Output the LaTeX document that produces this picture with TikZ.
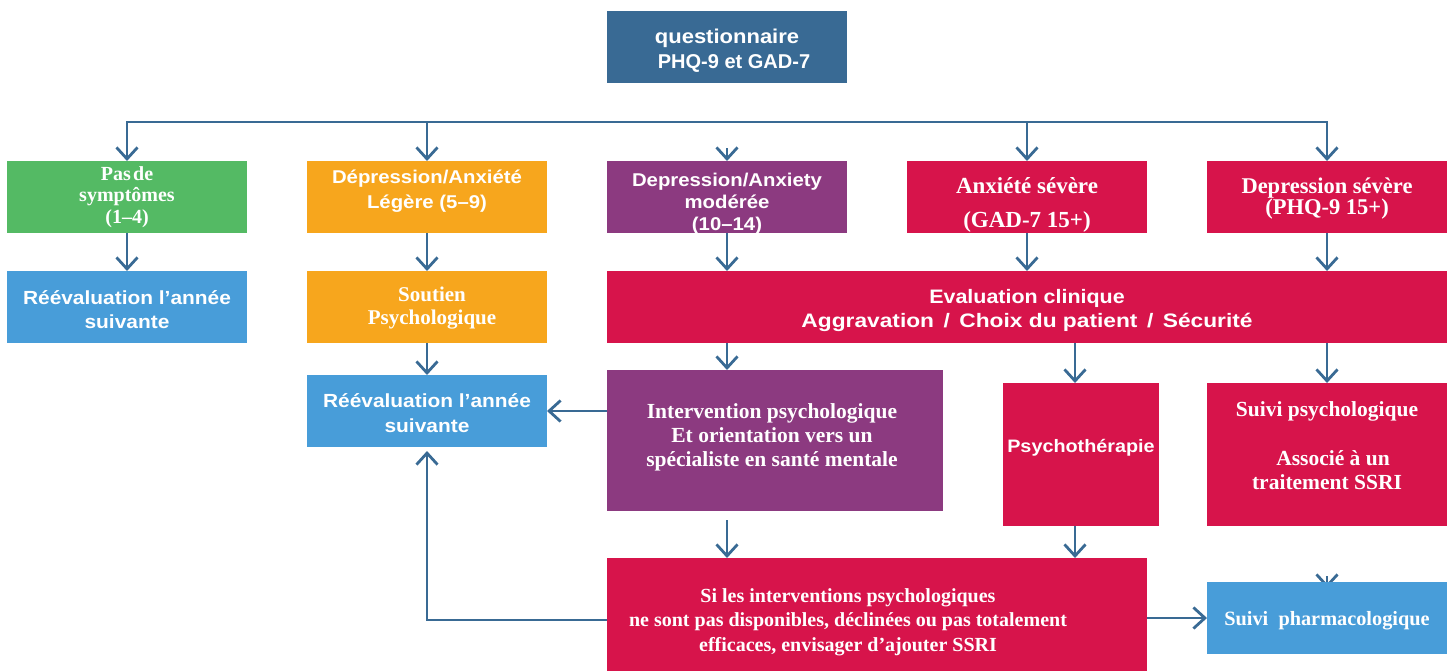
\documentclass[tikz,border=0pt]{standalone}
\usepackage{fontspec}
\setmainfont{Liberation Serif}
\setsansfont{Liberation Sans}[FakeStretch=1.1]
\usetikzlibrary{arrows.meta,backgrounds}
\definecolor{cdark}{HTML}{396A94}
\definecolor{cgreen}{HTML}{54BA64}
\definecolor{corange}{HTML}{F7A61D}
\definecolor{cpurple}{HTML}{8C3A80}
\definecolor{cred}{HTML}{D7144B}
\definecolor{cblue}{HTML}{489DD9}
\newcommand\sfb[2]{\sffamily\bfseries\fontsize{#1}{#2}\selectfont}
\newcommand\rmb[2]{\rmfamily\bfseries\fontsize{#1}{#2}\selectfont}
\newcommand\bxt[3]{\raisebox{#2}[0pt][0pt]{\makebox[0pt]{\hspace*{#1}\hspace*{#1}\begin{tabular}[t]{@{}c@{}}#3\end{tabular}}}}
\tikzset{
  box/.style={rectangle, inner sep=0pt, outer sep=0pt, text=white, draw=none},
  wide/.style={minimum width=240pt, minimum height=72pt},
  conn/.style={draw=cdark, line width=2.8pt},
  arr/.style={conn, -{Straight Barb[length=11.5pt,width=21pt]}},
}
\begin{document}
\begin{tikzpicture}[x=1pt,y=-1pt]
\useasboundingbox (0,0) rectangle (1450,670);
% top
\node[box,wide,fill=cdark,font=\sfb{20}{25}] (q) at (727,47) {\bxt{0pt}{4pt}{questionnaire\\\hspace*{14pt}\scalebox{0.91}[1]{PHQ-9 et GAD-7}}};
% row 1
\node[box,wide,fill=cgreen,font=\rmb{20}{21.5}] (n1) at (127,197) {\bxt{0pt}{17pt}{Pas\hspace{0.12em}de\\symptômes\\(1–4)}};
\node[box,wide,fill=corange,font=\sfb{18.5}{25}] (n2) at (427,197) {\bxt{0pt}{14pt}{Dépression/Anxiété\\Légère (5–9)}};
\node[box,wide,fill=cpurple,font=\sfb{18.5}{22}] (n3) at (727,197) {\bxt{0pt}{11pt}{Depression/Anxiety\\modérée\\(10–14)}};
\node[box,wide,fill=cred,font=\rmb{23}{23}] (n4) at (1027,197) {\bxt{0pt}{4pt}{Anxiété sévère\\[11pt](GAD-7 15+)}};
\node[box,wide,fill=cred,font=\rmb{22.5}{20}] (n5) at (1327,197) {\bxt{0pt}{4pt}{Depression sévère\\(PHQ-9 15+)}};
% row 2
\node[box,wide,fill=cblue,font=\sfb{19}{24}] (reev1) at (127,307) {\bxt{0pt}{3pt}{Réévaluation l’année\\suivante}};
\node[box,wide,fill=corange,font=\rmb{21}{23}] (sout) at (427,307) {\bxt{5pt}{6pt}{Soutien\\Psychologique}};
\node[box,fill=cred,minimum width=840pt,minimum height=72pt,font=\sfb{19.5}{24}] (eval) at (1027,307) {\bxt{0pt}{4pt}{Evaluation clinique\\\scalebox{1.06}[1]{Aggravation\hspace{3pt} / \hspace{3pt}Choix du patient\hspace{3pt} / \hspace{3pt}Sécurité}}};
% row 3
\node[box,wide,fill=cblue,font=\sfb{19}{25}] (reev2) at (427,411) {\bxt{0pt}{4pt}{Réévaluation l’année\\suivante}};
\node[box,fill=cpurple,minimum width=336pt,minimum height=141pt,font=\rmb{21.5}{24}] (interv) at (775,440.5) {\bxt{-3pt}{22.5pt}{Intervention psychologique\\Et orientation vers un\\spécialiste en santé mentale}};
\node[box,fill=cred,minimum width=156pt,minimum height=143pt,font=\sfb{18}{24}] (psy) at (1081,454.5) {\bxt{0pt}{2.5pt}{Psychothérapie}};
\node[box,fill=cred,minimum width=240pt,minimum height=143pt,font=\rmb{21.5}{24}] (suivi) at (1327,454.5) {\bxt{0pt}{38.5pt}{Suivi psychologique\\[25pt]\hspace*{12pt}Associé à un\\traitement SSRI}};
% row 4
\node[box,fill=cred,minimum width=540pt,minimum height=114pt,font=\rmb{20}{24.5}] (si) at (877,615) {\bxt{-29pt}{13pt}{Si les interventions psychologiques\\ne sont pas disponibles, déclinées ou pas totalement\\efficaces, envisager d’ajouter SSRI}};
\node[box,wide,fill=cblue,font=\rmb{20.3}{24}] (pharm) at (1327,618) {\bxt{0pt}{-7pt}{Suivi~~pharmacologique}};
% connectors
\coordinate (bus) at (727,122);
\draw[arr] (bus) -| (n1.north);
\draw[arr] (bus) -| (n5.north);
\draw[arr] (n2.north |- bus) -- (n2.north);
\draw[arr] (n4.north |- bus) -- (n4.north);
\coordinate (h3) at (727,148);
\draw[arr] (h3) -- (n3.north);
\draw[arr] (n1) -- (reev1);
\draw[arr] (n2) -- (sout);
\draw[arr] (n3.south) -- (n3.south |- eval.north);
\draw[arr] (n4.south) -- (n4.south |- eval.north);
\draw[arr] (n5.south) -- (n5.south |- eval.north);
\draw[arr] (sout) -- (reev2);
\coordinate (xp) at (1075,0);
\draw[arr] (eval.south -| n3.south) -- (interv.north -| n3.south);
\draw[arr] (eval.south -| xp) -- (psy.north -| xp);
\draw[arr] (eval.south -| n5.south) -- (suivi.north);
\draw[arr] (interv.west |- reev2.east) -- (reev2.east);
\draw[arr,shorten <=9pt] (interv.south -| n3.south) -- (si.north -| n3.south);
\draw[arr] (psy.south -| xp) -- (si.north -| xp);
\draw[arr] (si.east |- pharm.west) -- (pharm.west);
\coordinate (yl) at (0,620);
\draw[arr,shorten >=4pt] (si.west |- yl) -| (reev2.south);
\begin{scope}[on background layer]
\coordinate (h6) at (1327,576);
\draw[arr] (h6) -- ([yshift=-6pt]pharm.north);
\end{scope}
\end{tikzpicture}
\end{document}
